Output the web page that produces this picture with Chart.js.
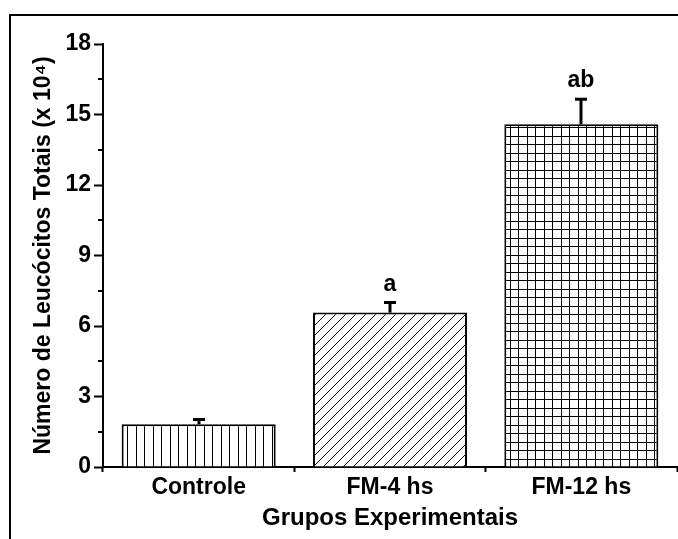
<!DOCTYPE html>
<html><head><meta charset="utf-8">
<script src="https://cdn.jsdelivr.net/npm/chart.js@4.4.1/dist/chart.umd.min.js"></script>
<style>html,body{margin:0;padding:0;background:#fff;}</style>
</head><body>
<canvas id="c" width="678" height="539"></canvas>
<script>
// ---- data ----
const categories = ['Controle', 'FM-4 hs', 'FM-12 hs'];
const means = [1.82, 6.57, 14.58];
const errors = [0.2, 0.43, 1.07];
const significance = ['', 'a', 'ab'];
const yTicks = [0, 3, 6, 9, 12, 15, 18];
const yMinorTicks = [1.5, 4.5, 7.5, 10.5, 13.5, 16.5];
const xTitle = 'Grupos Experimentais';
const yTitle = 'Número de Leucócitos Totais (x 10⁴)';

// ---- styles ----
const FAMILY = "'Liberation Sans', Arial, sans-serif";
const TICK_FONT = {family: FAMILY, size: 23, weight: 'bold'};
const XTITLE_FONT = {family: FAMILY, size: 24, weight: 'bold'};
const YTITLE_FONT = {family: FAMILY, size: 23, weight: 'bold'};

const canvas = document.getElementById('c');
const ctx0 = canvas.getContext('2d');

function tile(w, h, draw) {
  const c = document.createElement('canvas');
  c.width = w; c.height = h;
  const g = c.getContext('2d');
  g.fillStyle = '#fff'; g.fillRect(0, 0, w, h);
  draw(g);
  return ctx0.createPattern(c, 'repeat');
}
const patVertical = tile(17, 17, g => {
  g.fillStyle = '#000';
  g.fillRect(0, 0, 1, 17); g.fillRect(8, 0, 1, 17);
});
const patDiagonal = tile(10, 10, g => {
  g.strokeStyle = '#000'; g.lineWidth = 1;
  g.beginPath();
  g.moveTo(-1, 11); g.lineTo(11, -1);
  g.moveTo(-1, 1); g.lineTo(1, -1);
  g.moveTo(9, 11); g.lineTo(11, 9);
  g.stroke();
});
const patGrid = tile(17, 17, g => {
  g.fillStyle = '#000';
  g.fillRect(0, 0, 1, 17); g.fillRect(8, 0, 1, 17);
  g.fillRect(0, 0, 17, 1); g.fillRect(0, 8, 17, 1);
});

const framePlugin = {
  id: 'frame',
  beforeDraw(chart) {
    const c = chart.ctx;
    c.save();
    c.fillStyle = '#fff';
    c.fillRect(0, 0, chart.width, chart.height);
    c.fillStyle = '#000';
    c.fillRect(9, 14, chart.width - 9, 2);
    c.fillRect(9, 14, 2, chart.height - 14);
    c.restore();
  }
};

const minorTickPlugin = {
  id: 'minorTicks',
  afterDraw(chart) {
    const c = chart.ctx, y = chart.scales.y, left = chart.chartArea.left;
    c.save();
    c.strokeStyle = '#000'; c.lineWidth = 2;
    yMinorTicks.forEach(v => {
      const py = Math.round(y.getPixelForValue(v));
      c.beginPath(); c.moveTo(left - 5, py); c.lineTo(left, py); c.stroke();
    });
    c.restore();
  }
};

const errorPlugin = {
  id: 'errorBars',
  afterDatasetsDraw(chart) {
    const c = chart.ctx, y = chart.scales.y;
    const meta = chart.getDatasetMeta(0);
    c.save();
    c.strokeStyle = '#000'; c.fillStyle = '#000';
    meta.data.forEach((bar, i) => {
      const x = Math.round(bar.x);
      const yb = y.getPixelForValue(means[i]);
      const yt = y.getPixelForValue(means[i] + errors[i]);
      c.lineWidth = 3;
      c.beginPath(); c.moveTo(x, yb); c.lineTo(x, yt); c.stroke();
      c.beginPath(); c.moveTo(x - 6, yt); c.lineTo(x + 6, yt); c.stroke();
      if (significance[i]) {
        c.font = `bold ${TICK_FONT.size}px ${FAMILY}`;
        c.textAlign = 'center'; c.textBaseline = 'alphabetic';
        c.fillText(significance[i], x, yt - 12);
      }
    });
    c.restore();
  }
};

new Chart(canvas, {
  type: 'bar',
  data: {
    labels: categories,
    datasets: [{
      data: means,
      backgroundColor: [patVertical, patDiagonal, patGrid],
      borderColor: '#000',
      borderWidth: 2,
      categoryPercentage: 1,
      barPercentage: 0.805
    }]
  },
  options: {
    responsive: false,
    animation: false,
    devicePixelRatio: 1,
    layout: {padding: {top: 44, right: 1, left: 0, bottom: 0}},
    plugins: {legend: {display: false}, tooltip: {enabled: false}},
    scales: {
      x: {
        offset: true,
        grid: {display: true, offset: true, drawOnChartArea: false, drawTicks: true, tickLength: 5, tickWidth: 2, tickColor: '#000'},
        border: {display: true, color: '#000', width: 2},
        ticks: {color: '#000', font: TICK_FONT, padding: 2, maxRotation: 0},
        title: {display: true, text: xTitle, color: '#000', font: XTITLE_FONT, padding: {top: 0, bottom: 6}},
        afterFit(s) { s.height = 72; }
      },
      y: {
        min: 0, max: 18,
        afterBuildTicks(s) { s.ticks = yTicks.map(v => ({value: v})); },
        grid: {display: true, drawOnChartArea: false, drawTicks: true, tickLength: 9, tickWidth: 2, tickColor: '#000'},
        border: {display: true, color: '#000', width: 2},
        ticks: {color: '#000', font: TICK_FONT, padding: 3},
        title: {display: true, text: yTitle, color: '#000', font: YTITLE_FONT, padding: {top: 30, bottom: 0}},
        afterFit(s) { s.width = 103; }
      }
    }
  },
  plugins: [framePlugin, minorTickPlugin, errorPlugin]
});
</script>
</body></html>
